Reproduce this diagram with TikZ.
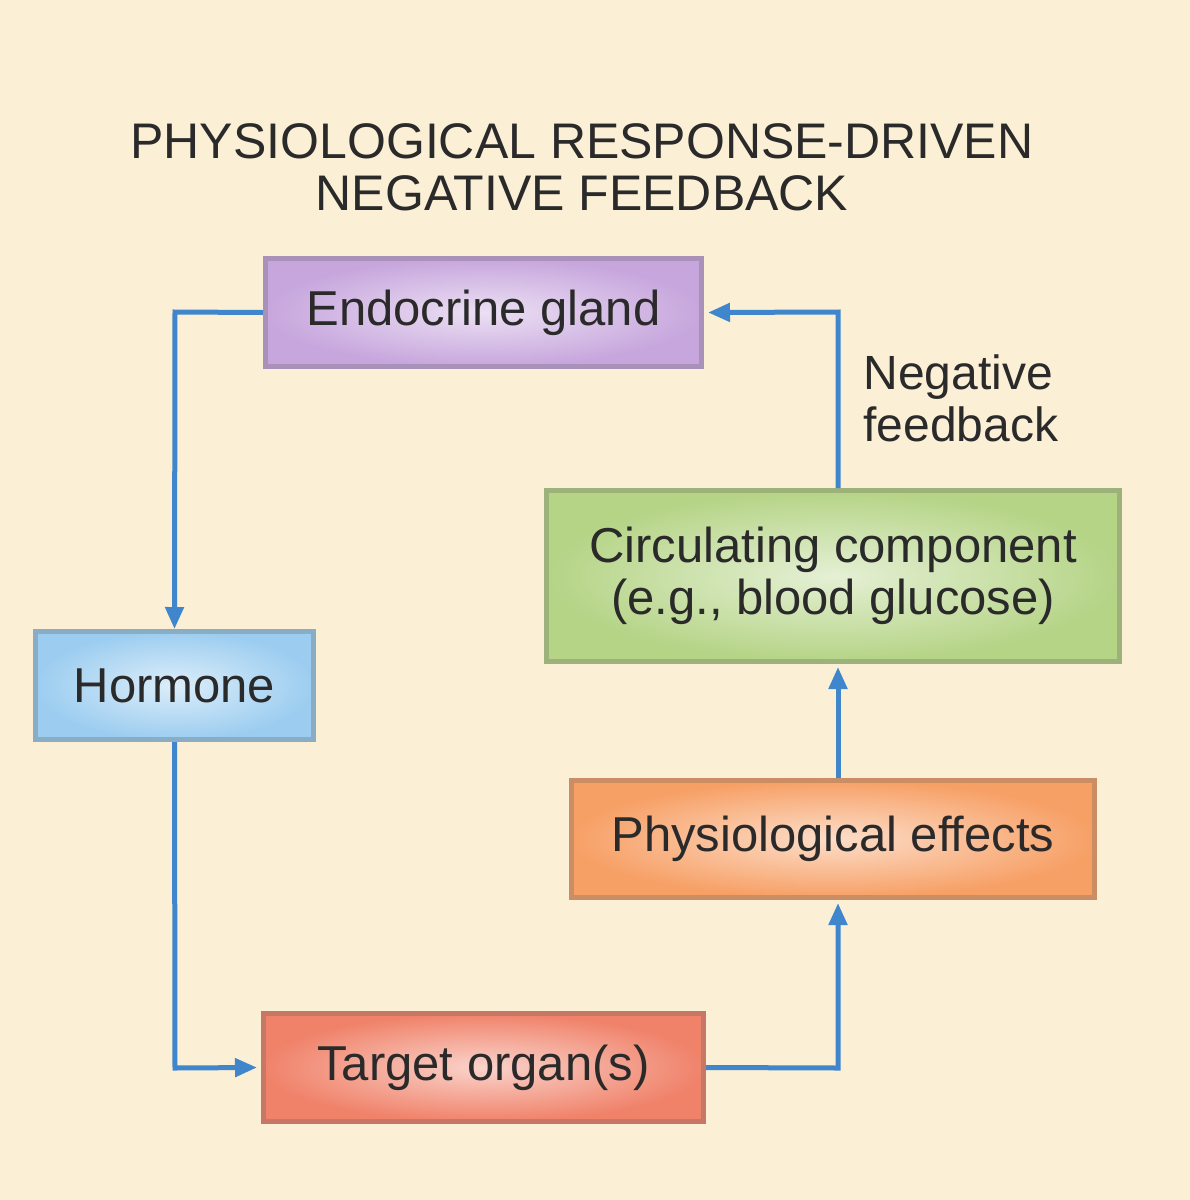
\documentclass[tikz,border=0pt]{standalone}
\usepackage{fontspec}
\setmainfont{Liberation Sans}
\usetikzlibrary{arrows.meta}
\definecolor{bg}{HTML}{FBEFD5}
\definecolor{arr}{HTML}{3F86CC}
\definecolor{txt}{HTML}{2A2A2A}
\begin{document}
\begin{tikzpicture}[x=1pt,y=-1pt,
  box/.style={draw=#1!80!black!90, line width=5pt, inner color=#1!35!white, outer color=#1, text=txt, font=\fontsize{49}{52}\selectfont, align=center, anchor=north west},
  con/.style={draw=arr, line width=5pt, -{Triangle[length=22pt,width=18pt]}}]
\path[fill=bg] (0,0) rectangle (1190,1200);
\useasboundingbox (0,0) rectangle (1190,1200);
\definecolor{cpur}{HTML}{C7A6DD}
\definecolor{cblu}{HTML}{9CCDF0}
\definecolor{cred}{HTML}{F0826A}
\definecolor{cora}{HTML}{F7A066}
\definecolor{cgrn}{HTML}{B5D486}
\node[text=txt, font=\fontsize{50}{52}\selectfont, align=center] (title) at (582,167) {PHYSIOLOGICAL RESPONSE-DRIVEN\\NEGATIVE FEEDBACK};
\node[box=cpur, minimum width=436pt, minimum height=108pt] (endo) at (263,256) {Endocrine gland};
\node[box=cblu, minimum width=278pt, minimum height=108pt] (horm) at (33,629) {Hormone};
\node[box=cred, minimum width=440pt, minimum height=108pt] (targ) at (261,1011) {Target organ(s)};
\node[box=cora, minimum width=523pt, minimum height=117pt] (eff) at (569,778) {Physiological effects};
\node[box=cgrn, minimum width=573pt, minimum height=171pt] (circ) at (544,488) {Circulating component\\(e.g., blood glucose)};
\node[text=txt, font=\fontsize{48}{52}\selectfont, align=left, anchor=west] (neg) at (860,398) {Negative\\feedback};
\coordinate (c1) at (175,312);
\coordinate (c2) at (175,1068);
\coordinate (c3) at (838,1068);
\coordinate (c4) at (838,312);
\draw[con] (endo.west) -- (c1) -- (horm.north);
\draw[con] (horm.south) -- (c2) -- ([xshift=-4pt]targ.west);
\draw[con] (targ.east) -- (c3) -- ([yshift=-3pt]eff.south -| c3);
\draw[con] (eff.north -| c3) -- ([yshift=-3pt]circ.south -| c3);
\draw[con] (circ.north -| c4) -- (c4) -- ([xshift=4pt]endo.east);
\end{tikzpicture}
\end{document}
